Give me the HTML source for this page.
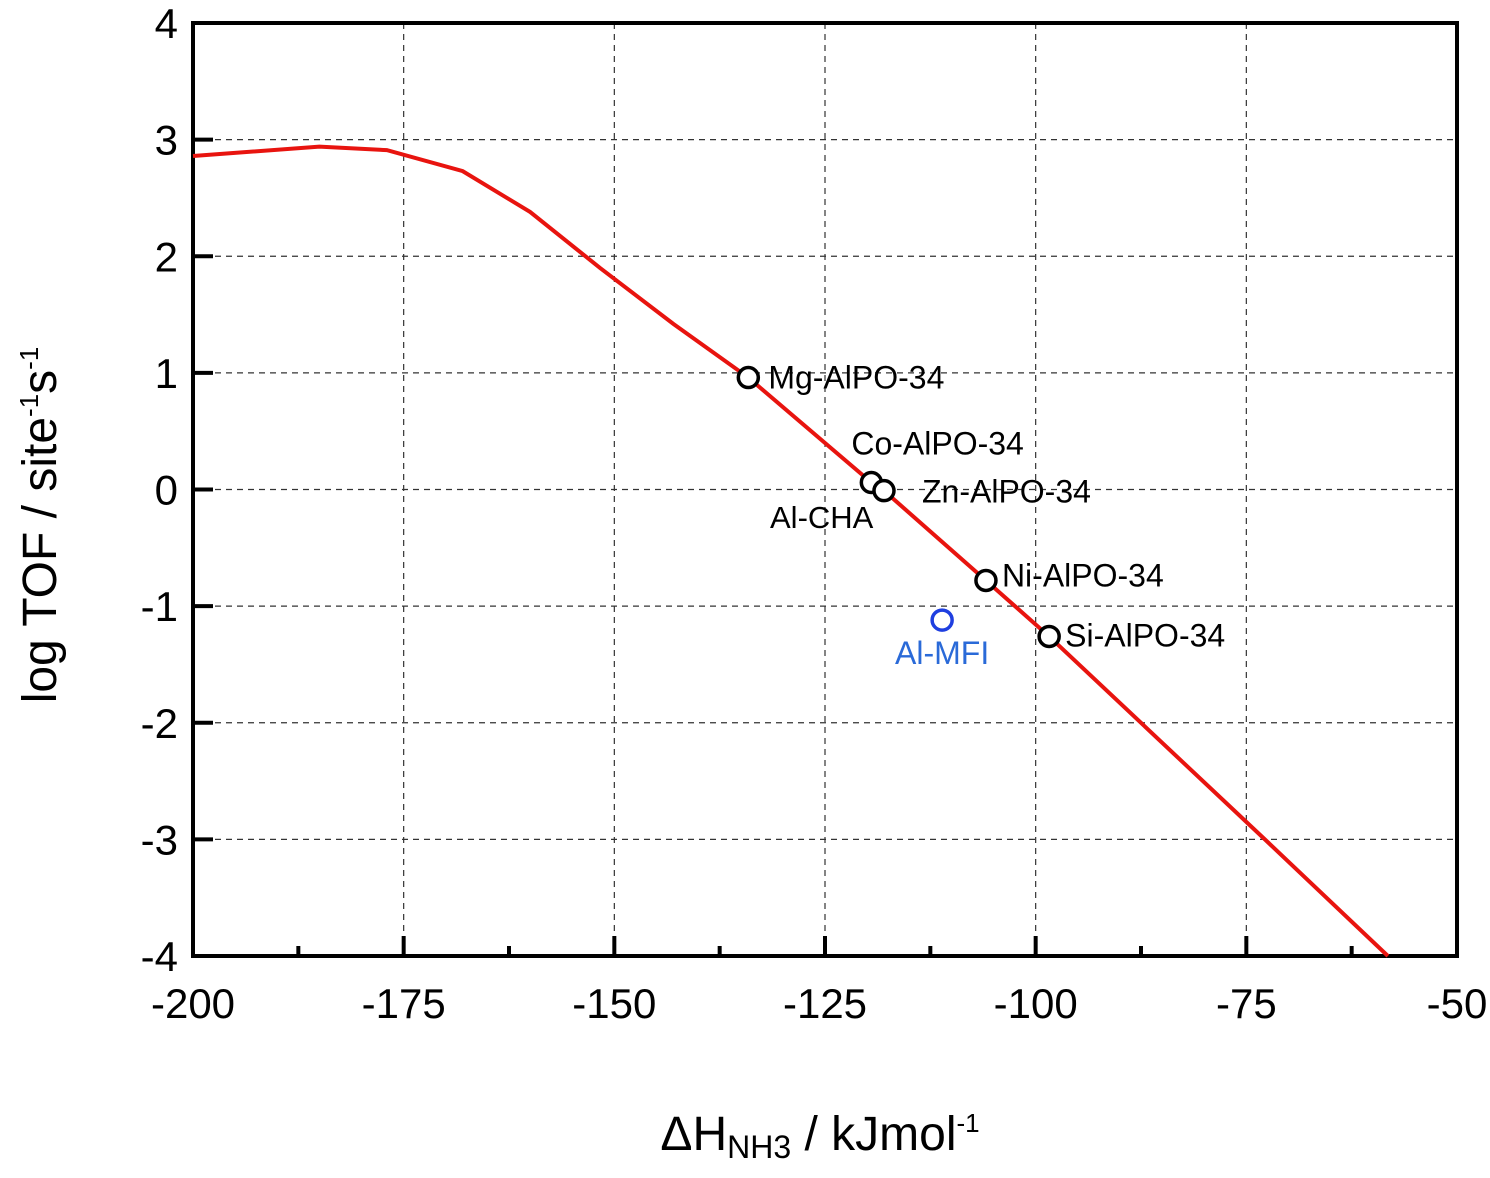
<!DOCTYPE html>
<html><head><meta charset="utf-8"><style>
html,body{margin:0;padding:0;background:#fff;}
svg{display:block;font-family:"Liberation Sans",sans-serif;}
</style></head><body>
<svg id="chart" width="1490" height="1178"></svg>
<script>
const xTicks=[-200,-175,-150,-125,-100,-75,-50];
const yTicks=[4,3,2,1,0,-1,-2,-3,-4];
const curveX=[-200,-185,-177,-168,-160,-151.7,-143,-134.1,-119.5,-118,-105.9,-98.4,-72.8,-58.2];
const curveY=[2.86,2.94,2.91,2.73,2.38,1.9,1.42,0.96,0.06,-0.01,-0.78,-1.26,-3,-4];
const ptNames=["Mg-AlPO-34","Co-AlPO-34","Zn-AlPO-34","Ni-AlPO-34","Si-AlPO-34","Al-MFI"];
const ptX=[-134.1,-119.5,-118,-105.9,-98.4,-111.1];
const ptY=[0.96,0.06,-0.01,-0.78,-1.26,-1.12];
const L=193,R=1457,T=23,B=956;
const sx=v=>L+(v+200)/150*(R-L);
const sy=v=>T+(4-v)/8*(B-T);
const svg=document.getElementById('chart');
const NS='http://www.w3.org/2000/svg';
function mk(t,a,p){const e=document.createElementNS(NS,t);for(const k in a)e.setAttribute(k,a[k]);(p||svg).appendChild(e);return e;}
xTicks.slice(1,-1).forEach(v=>{const e=mk('line',{x1:sx(v),x2:sx(v),y1:T,y2:B,stroke:'#333','stroke-width':1.2,'stroke-dasharray':'6,5'});

});
yTicks.slice(1,-1).forEach(v=>{const e=mk('line',{x1:L,x2:R,y1:sy(v),y2:sy(v),stroke:'#333','stroke-width':1.2,'stroke-dasharray':'6,5'});

});
for(let v=-200;v<=-50;v+=12.5){const major=(v%25===0);const e=mk('line',{x1:sx(v),x2:sx(v),y1:B,y2:B-(major?20:10),stroke:'#000','stroke-width':4});

}
yTicks.forEach(v=>{const e=mk('line',{x1:L,x2:L+20,y1:sy(v),y2:sy(v),stroke:'#000','stroke-width':4});

});
const fr=mk('rect',{x:L,y:T,width:R-L,height:B-T,fill:'none',stroke:'#000','stroke-width':4});


xTicks.forEach(v=>{const t=mk('text',{x:sx(v),y:1018,'font-size':42,'text-anchor':'middle'});t.textContent=v;

});
yTicks.forEach(v=>{const t=mk('text',{x:178,y:sy(v)+15,'font-size':42,'text-anchor':'end'});t.textContent=v;

});
const cl=mk('polyline',{points:curveX.map((x,i)=>sx(x)+','+sy(curveY[i])).join(' '),fill:'none',stroke:'#e8140f','stroke-width':4});


const lab=[[20,11,'start'],[-20,-28,'start'],[38,12,'start'],[16,6,'start'],[16,10,'start'],[0,44,'middle']];
ptX.forEach((x,i)=>{const blue=ptNames[i]==='Al-MFI';const c=mk('circle',{cx:sx(x),cy:sy(ptY[i]),r:10,fill:'#fff',stroke:blue?'#1f3fe0':'#000','stroke-width':3.5});


const o=lab[i];const t=mk('text',{x:sx(x)+o[0],y:sy(ptY[i])+o[1],'font-size':32,'text-anchor':o[2],fill:blue?'#2a6ad8':'#000'});t.textContent=ptNames[i];

});
const ac=mk('text',{x:770,y:528,'font-size':31});ac.textContent='Al-CHA';


const xt=mk('text',{x:820,y:1150,'font-size':48,'text-anchor':'middle'});
xt.innerHTML='ΔH<tspan font-size="32" dy="8">NH3</tspan><tspan dy="-8"> / kJmol</tspan><tspan font-size="26" dy="-18">-1</tspan>';


const yt=mk('text',{x:0,y:0,'font-size':48,'text-anchor':'middle',transform:'translate(56,525) rotate(-90)'});
yt.innerHTML='log TOF / site<tspan font-size="26" dy="-18">-1</tspan><tspan dy="18">s</tspan><tspan font-size="26" dy="-18">-1</tspan>';


</script>
</body></html>
